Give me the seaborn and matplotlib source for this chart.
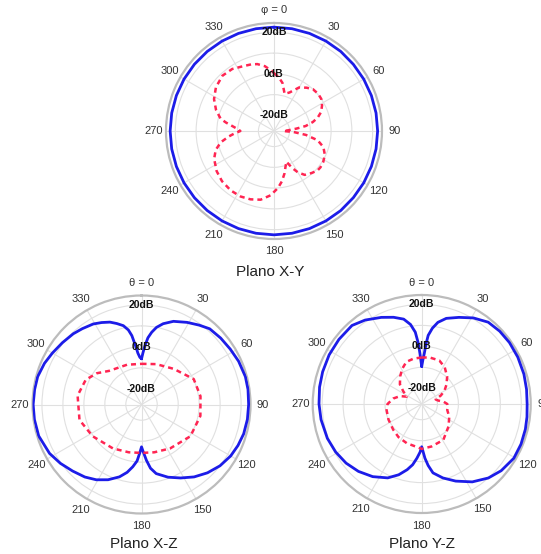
import numpy as np
import pandas as pd
import seaborn as sns
import matplotlib
matplotlib.use("Agg")
import matplotlib.pyplot as plt

# ---------------- data (dB readings vs angle in degrees) ----------------
xy_blue_ang = [0, 10, 20, 30, 40, 50, 60, 70, 80, 90, 100, 110, 120, 130, 140, 150, 160, 170,
               180, 190, 200, 210, 220, 230, 240, 250, 260, 270, 280, 290, 300, 310, 320, 330,
               340, 350, 360]
xy_blue_db = [22.5, 22.5, 22.5, 22.5, 22.5, 22.4, 22.4, 22.4, 22.4, 22.4, 22.4, 22.4, 22.4, 22.4,
              22.5, 22.5, 22.5, 22.5, 22.5, 22.5, 22.5, 22.5, 22.5, 22.5, 22.5, 22.5, 22.5, 22.5,
              22.5, 22.5, 22.5, 22.5, 22.5, 22.5, 22.5, 22.5, 22.5]

xy_red_ang = [0, 5, 10, 16, 22, 30, 37, 43, 50, 56, 62, 68, 73, 77, 81, 84, 87, 90, 93, 97, 102,
              108, 115, 122, 128, 132, 138, 145, 150, 154, 158, 162, 166, 171, 176, 183, 191, 199,
              207, 216, 226, 235, 245, 252, 258, 263, 266, 270, 273, 276, 280, 283, 290, 298, 307,
              317, 326, 335, 341, 346, 352, 358, 360]
xy_red_db = [0.3, -1.5, -4.0, -8.9, -7.5, -3.3, -1.4, 0.0, 0.3, 0.0, -1.3, -3.0, -5.5, -8.3, -12.0,
             -16.7, -20.5, -23.0, -18.0, -12.0, -6.0, -2.5, -0.5, 0.5, 0.9, 0.8, -0.3, -1.7, -4.5,
             -7.8, -11.6, -9.5, -6.5, -3.0, 0.0, 3.5, 6.2, 7.3, 7.9, 7.9, 7.3, 6.2, 4.3, 2.0, -1.3,
             -5.5, -8.1, -11.3, -10.0, -7.9, -4.0, -1.1, 2.2, 5.2, 7.5, 8.9, 8.5, 7.0, 6.4, 5.7,
             4.0, 1.4, 0.3]

xz_blue_ang = [0, 1.5, 3.3, 5.5, 8, 11, 15, 21, 29, 36, 42, 50, 58, 66, 75, 82, 90, 98, 106, 113,
               120, 128, 136, 144, 152, 160, 168, 172, 175, 178, 180, 182, 184.5, 188, 192, 197,
               204, 211, 218, 226, 234, 242, 253, 262, 270, 278, 285, 293, 300, 308, 316, 322,
               329, 334, 339, 343, 347, 350, 352, 354, 356, 358, 360]
xz_blue_db = [-5.7, -3.0, 0.6, 4.5, 7.3, 10.0, 12.4, 15.0, 17.3, 19.3, 21.1, 21.8, 22.4, 23.2,
              23.8, 23.8, 23.6, 23.5, 23.2, 22.5, 21.6, 20.0, 17.8, 15.2, 12.2, 9.4, 6.2, 3.2,
              -0.8, -5.0, -7.3, -4.5, -0.5, 2.5, 5.6, 8.6, 11.8, 14.4, 16.4, 18.2, 20.3, 22.2,
              23.8, 24.1, 24.2, 24.0, 23.8, 22.8, 21.6, 20.4, 19.4, 18.4, 17.3, 16.0, 14.6, 12.9,
              11.1, 8.6, 5.7, 1.0, -3.0, -5.0, -5.7]

xz_red_ang = [0, 20, 42, 64, 82, 101, 123, 147, 165, 180, 195, 213, 237, 256, 278, 294, 305,
              316, 340, 360]
xz_red_db = [-8.1, -7.0, -4.6, 0.2, 0.9, 1.1, 0.3, -2.5, -3.9, -4.4, -3.9, -2.5, 0.3, 3.0, 3.3,
             1.6, -1.5, -5.2, -7.3, -8.1]

yz_blue_ang = [0, 1.5, 2.9, 4.2, 5.4, 8, 11.2, 16, 23.3, 31, 39.1, 47, 55, 64, 73.7, 82, 90, 97,
               103.7, 112, 120.5, 130, 138, 147, 156.2, 164, 170.7, 174, 176.6, 178.5, 180, 182,
               185.1, 188.5, 192.5, 198, 204.7, 214, 223.2, 232, 240.8, 250, 261.2, 270, 279.4,
               288, 298, 308, 318.4, 326, 335, 342, 348, 352, 354.9, 356.8, 358, 360]
yz_blue_db = [-9.6, -6.5, -3.4, 1.5, 5.4, 9.0, 12.2, 15.0, 17.5, 20.4, 22.8, 23.4, 23.6, 23.5,
              23.3, 23.0, 22.8, 23.1, 23.4, 23.6, 23.5, 22.0, 20.0, 16.8, 12.7, 9.2, 5.8, 2.0,
              -1.6, -5.0, -7.1, -4.5, -1.5, 1.8, 4.6, 8.0, 11.3, 14.3, 16.6, 18.3, 19.5, 20.4,
              21.1, 21.5, 21.9, 22.2, 22.5, 22.6, 22.6, 20.8, 18.1, 16.0, 13.9, 10.8, 6.9, 1.5,
              -3.4, -9.6]

yz_red_ang = [0, 10, 22, 32, 43, 52, 60, 66, 72, 78, 84, 90, 97, 103, 115, 130, 149, 167, 180,
              201, 215, 228, 245, 260, 270, 281, 290, 296, 300, 304, 312, 322, 331, 340, 350, 360]
yz_red_db = [-5.3, -5.0, -5.1, -6.8, -9.7, -12.5, -15.0, -17.5, -20.5, -19.5, -17.0, -15.3,
             -15.0, -15.0, -13.0, -10.8, -7.5, -6.7, -6.1, -7.5, -8.2, -9.2, -10.0, -10.5,
             -11.2, -13.7, -16.5, -19.5, -19.0, -17.0, -13.5, -10.8, -8.3, -6.1, -5.5, -5.3]

theta_labels = ["30", "60", "90", "120", "150", "180", "210", "240", "270", "300", "330"]
ring_values = [-20, 0, 20]
titles = ["Plano X-Y", "Plano X-Z", "Plano Y-Z"]
zero_labels = ["\u03c6 = 0", "\u03b8 = 0", "\u03b8 = 0"]

RMIN, RMAX = -27.5, 24.5

# ---------------- figure ----------------
sns.set_theme(style="white")
plt.rcParams["font.family"] = ["Liberation Sans", "DejaVu Sans"]

fig = plt.figure(figsize=(5.41, 5.54), dpi=100)
fig.patch.set_facecolor("white")

rects = [
    [0.3068, 0.5686, 0.3993, 0.3899],
    [0.0601, 0.0731, 0.4030, 0.3935],
    [0.5780, 0.0740, 0.4030, 0.3935],
]
title_pos = [(0.499, 0.497), (0.265, 0.006), (0.780, 0.006)]

datasets = [
    (xy_blue_ang, xy_blue_db, xy_red_ang, xy_red_db),
    (xz_blue_ang, xz_blue_db, xz_red_ang, xz_red_db),
    (yz_blue_ang, yz_blue_db, yz_red_ang, yz_red_db),
]

for i, (ba, bd, ra, rd) in enumerate(datasets):
    ax = fig.add_axes(rects[i], projection="polar")
    ax.set_facecolor("white")
    ax.set_theta_zero_location("N")
    ax.set_theta_direction(-1)

    dfb = pd.DataFrame({"theta": np.deg2rad(ba), "r": bd})
    dfr = pd.DataFrame({"theta": np.deg2rad(ra), "r": rd})
    sns.lineplot(data=dfb, x="theta", y="r", ax=ax, sort=False, estimator=None,
                 color="#1c1ce8", lw=2.0, zorder=4)
    sns.lineplot(data=dfr, x="theta", y="r", ax=ax, sort=False, estimator=None,
                 color="#ff2552", lw=1.8, linestyle=(0, (2.0, 1.6)), zorder=4)

    ax.set_ylim(RMIN, RMAX)
    ax.set_rticks([-20, -10, 0, 10, 20])
    ax.set_yticklabels([])
    ax.set_thetagrids(range(0, 360, 30), labels=[zero_labels[i]] + theta_labels)
    ax.tick_params(axis="x", labelsize=8, labelcolor="#333333", pad=-4)
    ax.grid(True, color="#e0e0e0", lw=0.8)
    ax.spines["polar"].set_color("#bcbcbc")
    ax.spines["polar"].set_linewidth(1.6)
    ax.set_xlabel("")
    ax.set_ylabel("")
    for v in ring_values:
        ax.text(0, v, f"{v}dB", ha="center", va="center", fontsize=7.5,
                fontweight="bold", color="#111111", zorder=5)

    fig.text(title_pos[i][0], title_pos[i][1], titles[i], ha="center", va="bottom",
             fontsize=11, color="#222222")

fig.savefig("out.png", dpi=100, facecolor="white")
